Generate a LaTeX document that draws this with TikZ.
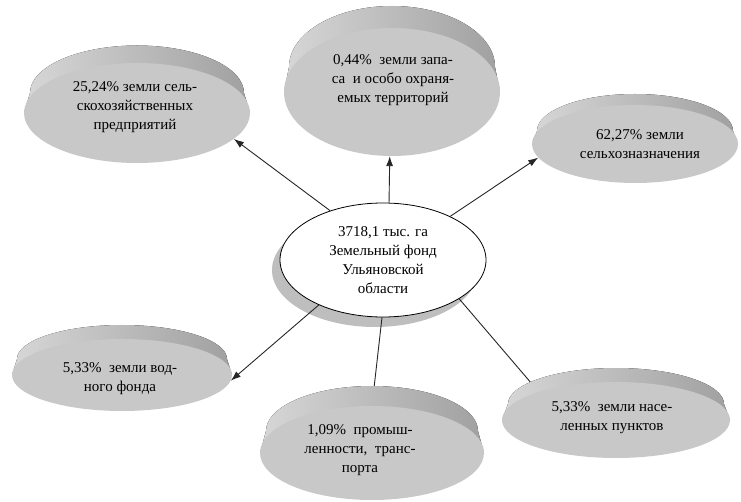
\documentclass[tikz,border=0pt]{standalone}
\usepackage{fontspec}
\setmainfont{Liberation Serif}
\usetikzlibrary{shapes.geometric,arrows.meta}
\pgfdeclarelayer{back}
\pgfsetlayers{back,main}
\definecolor{facegray}{RGB}{200,200,200}
\definecolor{rimlight}{RGB}{215,215,215}
\definecolor{rimdark}{RGB}{160,160,160}
\definecolor{shadegray}{RGB}{190,190,190}
\tikzset{
  face/.style={ellipse, fill=facegray, inner sep=0pt},
  rim/.style={left color=rimlight, right color=rimdark},
  txt/.style={align=center, font=\fontsize{15}{19}\selectfont, inner sep=0pt},
  link/.style={line width=0.9pt, black!85},
  arr/.style={link, -{Latex[length=10pt,width=7pt]}}
}

\begin{document}
\begin{tikzpicture}[x=1pt,y=1pt]
    \useasboundingbox (0,0) rectangle (741,-502);

    % rims of the discs
    \fill[rim] (24,-113) -- (30,-93) arc[start angle=180, end angle=0, x radius=107, y radius=47.5] -- (250,-113) -- cycle;
    \fill[rim] (284,-92) -- (289,-67) arc[start angle=180, end angle=0, x radius=103, y radius=61] -- (500,-92) -- cycle;
    \fill[rim] (532,-144) -- (537,-131) arc[start angle=180, end angle=0, x radius=98, y radius=37] -- (738,-144) -- cycle;
    \fill[rim] (12,-375) -- (17,-359) arc[start angle=180, end angle=0, x radius=105, y radius=34] -- (232,-375) -- cycle;
    \fill[rim] (260,-453) -- (266,-431) arc[start angle=180, end angle=0, x radius=106, y radius=45] -- (484,-453) -- cycle;
    \fill[rim] (502,-420) -- (508,-404) arc[start angle=180, end angle=0, x radius=108, y radius=36] -- (730,-420) -- cycle;

    % faces
    \node[face, minimum width=226, minimum height=100] (sx)   at (137,-113) {};
    \node[face, minimum width=216, minimum height=128] (zap)  at (392,-92)  {};
    \node[face, minimum width=206, minimum height=78]  (sel)  at (635,-144) {};
    \node[face, minimum width=220, minimum height=72]  (vod)  at (122,-375) {};
    \node[face, minimum width=224, minimum height=94]  (prom) at (372,-453) {};
    \node[face, minimum width=228, minimum height=76]  (nas)  at (616,-420) {};

    \node[txt] (sx-t)   at (135,-107) {25,24\% земли сель-\\скохозяйственных\\предприятий};
    \node[txt] (zap-t)  at (393,-80)  {0,44\%\ \ земли запа-\\са\ \ и особо\ охраня-\\емых территорий};
    \node[txt] (sel-t)  at (640,-144) {62,27\% земли\\сельхозназначения};
    \node[txt] (vod-t)  at (120,-379) {5,33\%\ \ земли вод-\\ного фонда};
    \node[txt] (prom-t) at (360,-450) {1,09\%\ \ промыш-\\ленности,\ \ транс-\\порта};
    \node[txt] (nas-t)  at (612,-418) {5,33\%\ \ земли насе-\\ленных пунктов};

    \node[txt, draw, ellipse, fill=white, line width=0.8pt, minimum width=206, minimum height=114] (fond) at (383,-260)
        {3718,1 тыс. га\\Земельный фонд\\Ульяновской\\области};

    \begin{pgfonlayer}{back}
    \fill[shadegray] (375,-270) ellipse (103 and 57);
    \draw[arr] (fond.137) -- (sx.-15);
    \draw[arr] (fond.84) -- (zap.-92);
    \draw[arr] (fond.33) -- (sel.188);
    \draw[arr] (fond.215) -- (vod.-3);
    \draw[link] (fond.-91) -- (prom.north);
    \draw[link] (fond.-27) -- (nas.160);
    \end{pgfonlayer}
\end{tikzpicture}
\end{document}
